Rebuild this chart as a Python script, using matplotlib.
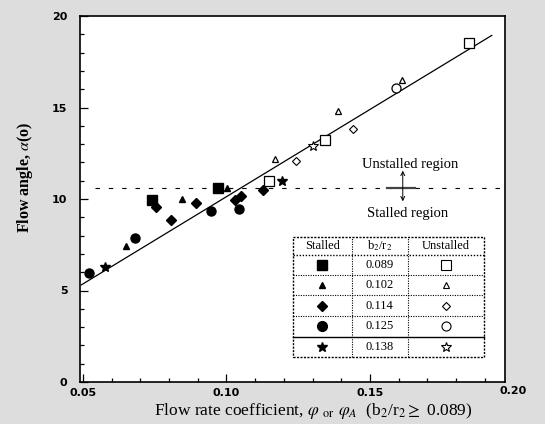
import matplotlib
matplotlib.use("Agg")
import matplotlib.pyplot as plt
import matplotlib.transforms as mtransforms

plt.rcParams["mathtext.fontset"] = "stix"

# ---- data ----
ratios = ["0.089", "0.102", "0.114", "0.125", "0.138"]

st_sq_x = [0.0739, 0.0971]
st_sq_y = [9.92, 10.60]
st_tri_x = [0.0650, 0.0844, 0.1001]
st_tri_y = [7.44, 10.00, 10.60]
st_dia_x = [0.0754, 0.0807, 0.0893, 0.1030, 0.1049, 0.1126]
st_dia_y = [9.56, 8.87, 9.78, 9.96, 10.18, 10.51]
st_cir_x = [0.0522, 0.0681, 0.0946, 0.1044]
st_cir_y = [5.95, 7.87, 9.32, 9.45]
st_star_x = [0.0577, 0.1192]
st_star_y = [6.31, 10.96]

un_sq_x = [0.1148, 0.1343, 0.1843]
un_sq_y = [11.00, 13.25, 18.54]
un_tri_x = [0.1169, 0.1390, 0.1610]
un_tri_y = [12.19, 14.79, 16.53]
un_dia_x = [0.1242, 0.1442]
un_dia_y = [12.06, 13.83]
un_cir_x = [0.1591]
un_cir_y = [16.08]
un_star_x = [0.1302]
un_star_y = [12.88]

fit_x = [0.0495, 0.1924]
fit_y = [5.31, 18.94]
stall_level = 10.6

xticks = [0.05, 0.10, 0.15, 0.20]
xtick_labels = ["0.05", "0.10", "0.15", "0.20"]
yticks = [0, 5, 10, 15, 20]

# ---- figure ----
fig = plt.figure(figsize=(5.45, 4.24), dpi=100, facecolor="#dddddd")
ax = fig.add_axes([80/545, 1-382/424, 425/545, 366/424])
ax.set_facecolor("white")
ax.set_xlim(0.049, 0.197)
ax.set_ylim(0, 20)

serif = "Liberation Serif"
k = "black"

ax.plot(fit_x, fit_y, color=k, lw=0.9, zorder=2)
ax.plot([0.0542, 0.197], [stall_level, stall_level], color=k, lw=0.8,
        dashes=(4, 8), zorder=1)

ms = 6.5
ax.plot(st_sq_x, st_sq_y, "s", color=k, ms=ms, ls="none")
ax.plot(st_tri_x, st_tri_y, "^", color=k, ms=5, ls="none")
ax.plot(st_dia_x, st_dia_y, "D", color=k, ms=5.2, ls="none")
ax.plot(st_cir_x, st_cir_y, "o", color=k, ms=6.5, ls="none")
ax.plot(st_star_x, st_star_y, "*", color=k, ms=7, ls="none")

ax.plot(un_sq_x, un_sq_y, "s", mfc="white", mec=k, mew=0.9, ms=6.5, ls="none", zorder=3)
ax.plot(un_tri_x, un_tri_y, "^", mfc="white", mec=k, mew=0.9, ms=4.5, ls="none", zorder=3)
ax.plot(un_dia_x, un_dia_y, "D", mfc="white", mec=k, mew=0.8, ms=4.0, ls="none", zorder=3)
ax.plot(un_cir_x, un_cir_y, "o", mfc="white", mec=k, mew=0.9, ms=6.5, ls="none", zorder=3)
ax.plot(un_star_x, un_star_y, "*", mfc="white", mec=k, mew=0.8, ms=7, ls="none", zorder=3)

# region annotations
ax.text(0.1639, 11.88, "Unstalled region", ha="center", va="center",
        family=serif, fontsize=10.5)
ax.text(0.1629, 9.2, "Stalled region", ha="center", va="center",
        family=serif, fontsize=10.5)
ax.annotate("", xy=(0.1614, 11.55), xytext=(0.1614, 9.87),
            arrowprops=dict(arrowstyle="<->", lw=0.7, color=k,
                            shrinkA=0, shrinkB=0, mutation_scale=7))
ax.plot([0.1558, 0.1657], [stall_level, stall_level], color="#444444", lw=1.6)

# ---- legend table ----
tl, tr, tt, tb = 0.502, 0.951, 0.397, 0.069
c1, c2 = 0.639, 0.772
rows = [tt, 0.347, 0.292, 0.238, 0.180, 0.124, tb]
tr_ = ax.transAxes
ax.add_patch(plt.Rectangle((tl, tb), tr - tl, tt - tb, transform=tr_,
                           facecolor="white", edgecolor=k, lw=1.0,
                           ls=(0, (1.5, 1)), zorder=5))
for c in (c1, c2):
    ax.plot([c, c], [tb, tt], transform=tr_, color=k, lw=0.8,
            ls=(0, (1, 1.2)), zorder=6)
for i, r in enumerate(rows[1:-1]):
    ax.plot([tl, tr], [r, r], transform=tr_, color=k,
            lw=1.0 if i in (0, 4) else 0.8,
            ls="-" if i == 4 else (0, (1, 1.2)), zorder=6)
ccx = [(tl + c1) / 2, (c1 + c2) / 2, (c2 + tr) / 2]
hy = (rows[0] + rows[1]) / 2
ax.text(ccx[0], hy, "Stalled", transform=tr_, ha="center", va="center",
        family=serif, fontsize=9, zorder=7)
ax.text(ccx[1], hy, "b$_2$/r$_2$", transform=tr_, ha="center", va="center",
        family=serif, fontsize=9, zorder=7)
ax.text(ccx[2], hy, "Unstalled", transform=tr_, ha="center", va="center",
        family=serif, fontsize=9, zorder=7)
st_mk = [("s", 6.5), ("^", 5), ("D", 5.5), ("o", 7), ("*", 7)]
un_mk = [("s", 6.5), ("^", 4.5), ("D", 4.5), ("o", 6.5), ("*", 7)]
for i, lab in enumerate(ratios):
    ry = (rows[i + 1] + rows[i + 2]) / 2
    m, s = st_mk[i]
    ax.plot([ccx[0]], [ry], m, color=k, ms=s, transform=tr_, zorder=7)
    ax.text(ccx[1], ry, lab, transform=tr_, ha="center", va="center",
            family=serif, fontsize=9, zorder=7)
    m, s = un_mk[i]
    ax.plot([ccx[2]], [ry], m, mfc="white", mec=k, mew=0.8, ms=s,
            transform=tr_, zorder=7)

# ---- axes styling ----
ax.set_xticks(xticks[:3])
ax.set_xticklabels(xtick_labels[:3])
ax.set_xticks([0.05 + 0.01 * i for i in range(15)], minor=True)
ax.set_yticks(yticks)
ax.set_yticks(range(0, 21), minor=True)
ax.tick_params(which="both", direction="in", color=k, width=0.9)
ax.tick_params(which="major", length=6, labelsize=8, pad=4)
ax.tick_params(which="minor", length=3)
ax.tick_params(axis="y", pad=9)
for lab in ax.get_xticklabels() + ax.get_yticklabels():
    lab.set_fontweight("bold")
blend = mtransforms.blended_transform_factory(ax.transData, ax.transAxes)
ax.text(xticks[3], -0.011, xtick_labels[3], transform=blend, ha="center",
        va="top", fontsize=8, fontweight="bold")
for sp in ax.spines.values():
    sp.set_linewidth(1.2)

ax.set_xlabel(r"Flow rate coefficient, $\varphi$ $_{\rm or}$ $\varphi_A$  (b$_2$/r$_2$$\geq$ 0.089)",
              family=serif, fontsize=12.5, va="center")
ax.xaxis.set_label_coords(0.548, -0.078)
ax.set_ylabel(r"Flow angle, $\alpha$(o)", family=serif, fontsize=11.5,
              fontweight="bold")
ax.yaxis.set_label_coords(-0.105, 0.56)

fig.savefig("out.png", dpi=100, facecolor=fig.get_facecolor())
